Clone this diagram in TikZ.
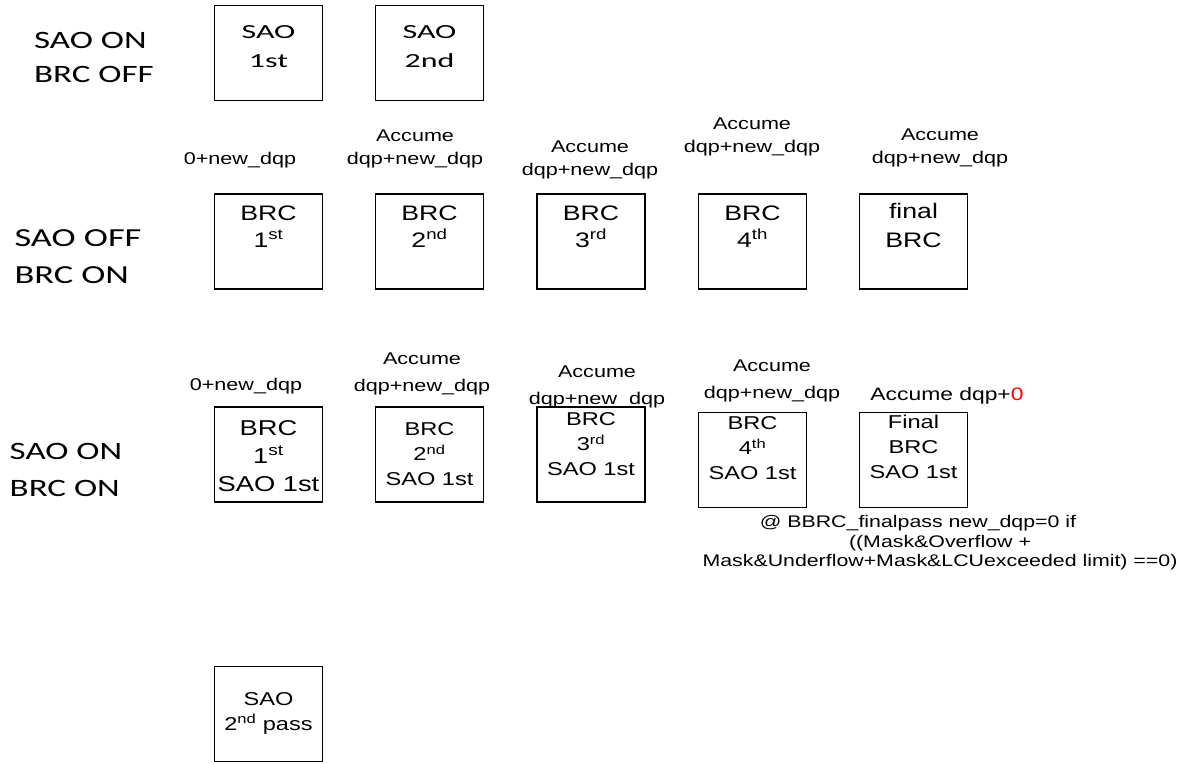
\documentclass[tikz,border=0pt]{standalone}
\usepackage{fontspec}
\setmainfont{Liberation Sans}[FakeStretch=1.27]
\newfontfamily\calfont{Carlito}[FakeStretch=1.4]
\newfontfamily\calwide{Carlito}[FakeStretch=1.6]
\begin{document}
\begin{tikzpicture}[x=1pt,y=-1pt,
  box/.style={draw, line width=1.3pt, inner sep=0pt, minimum width=108pt, minimum height=95pt},
  rowlab/.style={font=\calfont\fontsize{25}{34}\selectfont, align=left, inner sep=0pt},
  sbox/.style={font=\calwide\fontsize{20}{29}\selectfont, align=center, inner sep=0pt},
  mbox/.style={font=\fontsize{21}{27}\selectfont, align=center, inner sep=0pt},
  bbox/.style={font=\fontsize{18.6}{25}\selectfont, align=center, inner sep=0pt},
  lab/.style={font=\fontsize{17}{23}\selectfont, align=center, inner sep=0pt},
  labb/.style={font=\fontsize{17}{27}\selectfont, align=center, inner sep=0pt},
  note/.style={font=\fontsize{16.8}{19.5}\selectfont, align=center, inner sep=0pt}]
\useasboundingbox (0,0) rectangle (1183,763);

% row labels
\node[rowlab] (r1) at (94,57) {SAO ON\\BRC OFF};
\node[rowlab, font=\calfont\fontsize{26}{37}\selectfont] (r2) at (78,257) {SAO OFF\\BRC ON};
\node[rowlab, font=\calfont\fontsize{25}{37}\selectfont] (r3) at (66,470) {SAO ON\\BRC ON};

% top row
\node[box] (s1) at (268.5,53) {};
\node[sbox] (s1t) at (268.5,47) {SAO\\1st};
\node[box] (s2) at (429.5,53) {};
\node[sbox] (s2t) at (429.5,47) {SAO\\2nd};

% middle row
\node[box] (m1) at (268.5,241.5) {};
\node[box] (m2) at (429.5,241.5) {};
\node[box] (m3) at (591,241.5) {};
\node[box] (m4) at (752.5,241.5) {};
\node[box] (m5) at (913.5,241.5) {};
\node[mbox] (m1t) at (268.5,226.5) {BRC\\1\textsuperscript{st}};
\node[mbox] (m2t) at (429.5,226.5) {BRC\\2\textsuperscript{nd}};
\node[mbox] (m3t) at (591,226.5) {BRC\\3\textsuperscript{rd}};
\node[mbox] (m4t) at (752.5,226.5) {BRC\\4\textsuperscript{th}};
\node[mbox, font=\fontsize{21}{29}\selectfont] (m5t) at (913.5,225.5) {final\\BRC};

\node[lab] (m1l) at (240,160) {0+new\_dqp};
\node[lab] (m2l) at (415,149) {Accume\\dqp+new\_dqp};
\node[lab] (m3l) at (590,160) {Accume\\dqp+new\_dqp};
\node[lab] (m4l) at (752,137) {Accume\\dqp+new\_dqp};
\node[lab] (m5l) at (940,148) {Accume\\dqp+new\_dqp};

% bottom row
\node[box] (b1) at (268.5,454.5) {};
\node[box] (b2) at (429.5,454.5) {};
\node[box] (b3) at (591,454.5) {};
\node[box] (b4) at (752.5,460) {};
\node[box] (b5) at (913.5,460) {};
\node[mbox, font=\fontsize{21.5}{28}\selectfont] (b1t) at (268.5,456) {BRC\\1\textsuperscript{st}\\SAO 1st};
\node[bbox] (b2t) at (429.5,454) {BRC\\2\textsuperscript{nd}\\SAO 1st};
\node[bbox] (b3t) at (591,444) {BRC\\3\textsuperscript{rd}\\SAO 1st};
\node[bbox] (b4t) at (752.5,448) {BRC\\4\textsuperscript{th}\\SAO 1st};
\node[bbox] (b5t) at (913.5,447) {Final\\BRC\\SAO 1st};

\node[labb] (b1l) at (246,386) {0+new\_dqp};
\node[labb] (b2l) at (422,374) {Accume\\dqp+new\_dqp};
\node[labb] (b3l) at (597,387) {Accume\\dqp+new\_dqp};
\node[labb] (b4l) at (772,381) {Accume\\dqp+new\_dqp};
\node[labb, font=\fontsize{18}{27}\selectfont] (b5l) at (947,396) {Accume dqp+\textcolor{red}{0}};

\node[note] (nt) at (940,543) {@ BBRC\_finalpass new\_dqp=0 if\hspace*{44pt}\\((Mask\&Overflow +\hspace*{72pt}\\Mask\&Underflow+Mask\&LCUexceeded limit) ==0)};

% SAO 2nd pass
\node[box] (p2) at (268.5,714) {};
\node[bbox] (p2t) at (268.5,713) {SAO\\2\textsuperscript{nd} pass};
\end{tikzpicture}
\end{document}
